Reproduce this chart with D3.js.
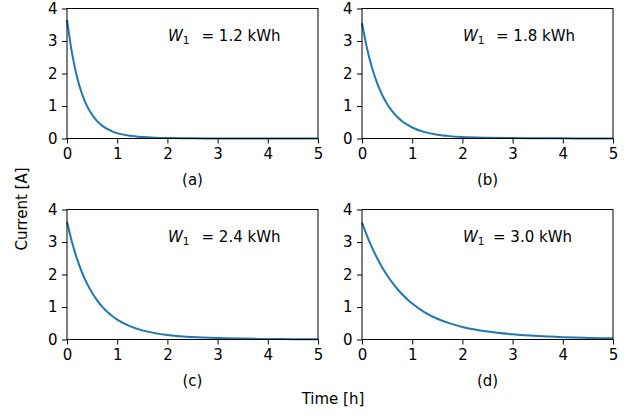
<!DOCTYPE html>
<html>
<head>
<meta charset="utf-8">
<script src="https://cdn.jsdelivr.net/npm/d3@7"></script>
<style>
  html, body { margin: 0; padding: 0; background: #fff; }
  svg { display: block; }
  text { font-family: "DejaVu Sans", sans-serif; fill: #000; }
</style>
</head>
<body>
<svg id="chart" width="640" height="418"></svg>
<script>
// ---- data ----
const times = [0, 0.1, 0.2, 0.3, 0.4, 0.5, 0.6, 0.7, 0.8, 0.9, 1.0, 1.25, 1.5, 1.75, 2, 2.5, 3, 3.5, 4, 4.5, 5];
const currentA = [3.65, 2.625, 1.887, 1.370, 0.995, 0.730, 0.535, 0.397, 0.294, 0.220, 0.164, 0.082, 0.043, 0.023, 0.0135, 0.005, 0.002, 0.001, 0.0004, 0.0002, 0.0001];
const currentB = [3.55, 2.779, 2.175, 1.711, 1.346, 1.064, 0.841, 0.668, 0.531, 0.424, 0.339, 0.195, 0.116, 0.073, 0.048, 0.024, 0.012, 0.007, 0.004, 0.0025, 0.0015];
const currentC = [3.62, 2.992, 2.479, 2.061, 1.718, 1.436, 1.204, 1.013, 0.855, 0.723, 0.614, 0.411, 0.281, 0.196, 0.138, 0.076, 0.044, 0.027, 0.016, 0.010, 0.006];
const currentD = [3.60, 3.19, 2.829, 2.509, 2.226, 1.976, 1.756, 1.562, 1.391, 1.240, 1.106, 0.836, 0.638, 0.495, 0.387, 0.244, 0.159, 0.105, 0.071, 0.049, 0.035];
const energies = ["1.2", "1.8", "2.4", "3.0"];
const captions = ["(a)", "(b)", "(c)", "(d)"];
const xTicks = [0, 1, 2, 3, 4, 5];
const yTicks = [0, 1, 2, 3, 4];
const xLabel = "Time [h]";
const yLabel = "Current [A]";

// ---- layout ----
const svg = d3.select("#chart");
const panelW = 251, panelH = 130;
const panels = [
  { x: 67,  y: 8.5,   vals: currentA, gap: 12 },
  { x: 362, y: 8.5,   vals: currentB, gap: 11.5 },
  { x: 67,  y: 209.5, vals: currentC, gap: 12 },
  { x: 362, y: 209.5, vals: currentD, gap: 8.5 }
];
const fs = 15;

panels.forEach((p, i) => {
  const x = d3.scaleLinear().domain([0, 5]).range([0, panelW]);
  const y = d3.scaleLinear().domain([0, 4]).range([panelH, 0]);
  const g = svg.append("g").attr("transform", `translate(${p.x},${p.y})`);

  // curve
  const line = d3.line()
    .x((d, k) => x(times[k]))
    .y(d => y(d))
    .curve(d3.curveMonotoneX);
  g.append("path")
    .datum(p.vals)
    .attr("d", line)
    .attr("fill", "none")
    .attr("stroke", "#1f77b4")
    .attr("stroke-width", 2);

  // axes
  const xa = g.append("g").attr("transform", `translate(0,${panelH})`)
    .call(d3.axisBottom(x).tickValues(xTicks).tickSize(5).tickPadding(5).tickFormat(d3.format("d")));
  const ya = g.append("g")
    .call(d3.axisLeft(y).tickValues(yTicks).tickSize(5).tickPadding(4.5).tickFormat(d3.format("d")));
  [xa, ya].forEach(a => {
    a.select(".domain").remove();
    a.selectAll("line").attr("stroke", "#000").attr("stroke-width", 1);
    a.selectAll("text").attr("font-size", fs).attr("font-family", "DejaVu Sans").attr("fill", "#000");
  });

  // frame
  g.append("rect").attr("x", 0).attr("y", 0).attr("width", panelW).attr("height", panelH)
    .attr("fill", "none").attr("stroke", "#000").attr("stroke-width", 1);

  // caption
  g.append("text").attr("x", panelW / 2).attr("y", panelH + 46)
    .attr("text-anchor", "middle").attr("font-size", fs).text(captions[i]);

  // annotation W1 = ... kWh
  const t = g.append("text").attr("x", 101).attr("y", 32.5).attr("font-size", fs);
  t.append("tspan").attr("font-style", "italic").text("W");
  t.append("tspan").attr("font-size", 10.5).attr("dy", 3).text("1");
  t.append("tspan").attr("dy", -3).attr("dx", p.gap).text("= " + energies[i] + " kWh");
});

// shared axis labels
svg.append("text").attr("x", 333).attr("y", 404).attr("text-anchor", "middle")
  .attr("font-size", fs).text(xLabel);
svg.append("text").attr("transform", "translate(27,209) rotate(-90)")
  .attr("text-anchor", "middle").attr("font-size", fs).text(yLabel);
</script>
</body>
</html>
